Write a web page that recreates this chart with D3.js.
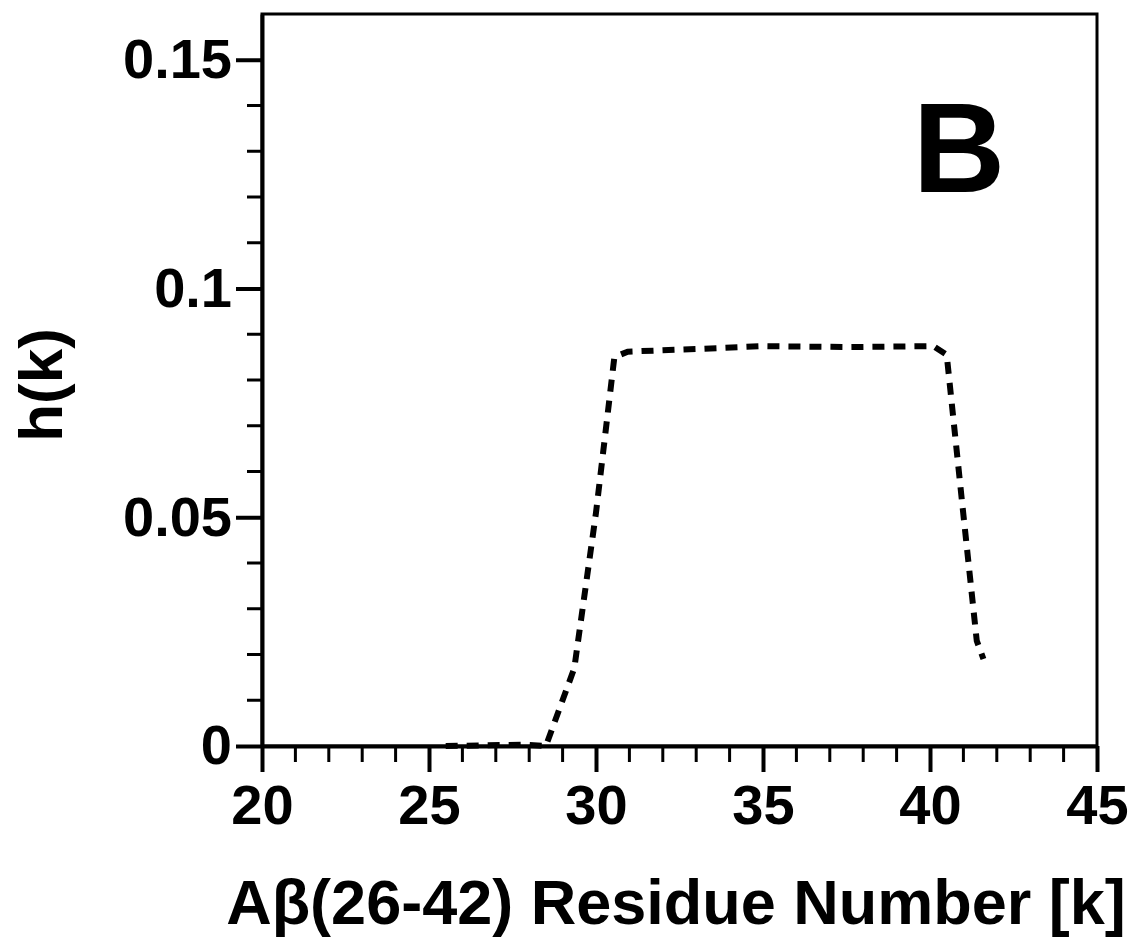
<!DOCTYPE html>
<html>
<head>
<meta charset="utf-8">
<script src="https://cdn.jsdelivr.net/npm/d3@7"></script>
<style>
  body { margin: 0; background: #fff; }
  text { font-family: "Liberation Sans", Arial, sans-serif; font-weight: bold; fill: #000; }
</style>
</head>
<body>
<div id="chart"></div>
<script>
// Residue positions and h(k) values
var residues = [25.5, 27.9, 28.5, 29.35, 30.0, 30.55, 30.95, 33.1, 35.0, 37.6, 40.1, 40.5, 40.95, 41.4, 41.6];
var hValues  = [0, 0.0003, 0, 0.017, 0.051, 0.085, 0.0862, 0.0868, 0.0874, 0.0872, 0.0874, 0.0855, 0.054, 0.023, 0.019];

var xTicks = [20, 25, 30, 35, 40, 45];
var yTicks = [0, 0.05, 0.1, 0.15];
var yTickLabels = ["0", "0.05", "0.1", "0.15"];

// Set graph margins and dimensions
var margin = {top: 14, right: 40, bottom: 197, left: 262},
    width = 1137 - margin.left - margin.right,
    height = 943 - margin.top - margin.bottom;

var x = d3.scaleLinear().domain([20, 45]).range([0, width]);
var y = d3.scaleLinear().domain([0, 0.16]).range([height, 0]);

var svg = d3.select("#chart").append("svg")
    .attr("width", 1137)
    .attr("height", 943)
  .append("g")
    .attr("transform", "translate(" + margin.left + "," + margin.top + ")");

// Frame
svg.append("rect")
    .attr("width", width)
    .attr("height", height)
    .attr("fill", "none")
    .attr("stroke", "#000")
    .attr("stroke-width", 3);

// Minor ticks
var xMinor = d3.range(21, 45, 1).filter(function(d) { return d % 5 !== 0; });
var yMinor = d3.range(1, 16, 1).filter(function(d) { return d % 5 !== 0; }).map(function(d) { return d / 100; });

svg.selectAll(".xminor")
    .data(xMinor)
  .enter().append("line")
    .attr("x1", function(d) { return x(d); })
    .attr("x2", function(d) { return x(d); })
    .attr("y1", height)
    .attr("y2", height + 16)
    .attr("stroke", "#000")
    .attr("stroke-width", 3);

svg.selectAll(".yminor")
    .data(yMinor)
  .enter().append("line")
    .attr("x1", 0)
    .attr("x2", -15)
    .attr("y1", function(d) { return y(d); })
    .attr("y2", function(d) { return y(d); })
    .attr("stroke", "#000")
    .attr("stroke-width", 3);

// Major axes
var xAxis = svg.append("g")
    .attr("transform", "translate(0," + height + ")")
    .call(d3.axisBottom(x).tickValues(xTicks).tickSize(26).tickPadding(12).tickSizeOuter(0));

var yAxis = svg.append("g")
    .call(d3.axisLeft(y).tickValues(yTicks).tickSize(26).tickPadding(4).tickSizeOuter(0)
      .tickFormat(function(d, i) { return yTickLabels[i]; }));

[xAxis, yAxis].forEach(function(ax) {
  ax.select(".domain").attr("stroke-width", 4);
  ax.selectAll(".tick line").attr("stroke-width", 4);
  ax.selectAll("text").style("font-size", "56px").attr("fill", "#000");
});
xAxis.selectAll("text").attr("dy", "0.71em");

// Dashed curve
var line = d3.line()
    .x(function(d, i) { return x(residues[i]); })
    .y(function(d) { return y(d); });

svg.append("path")
    .datum(hValues)
    .attr("fill", "none")
    .attr("stroke", "#000")
    .attr("stroke-width", 6)
    .attr("stroke-dasharray", "12,9")
    .attr("d", line);

// Panel label
svg.append("text")
    .attr("x", x(40.87))
    .attr("y", y(0.1211))
    .style("text-anchor", "middle")
    .style("font-size", "128px")
    .text("B");

// Axis titles
svg.append("text")
    .attr("x", 676 - margin.left)
    .attr("y", height + 178)
    .style("text-anchor", "middle")
    .style("font-size", "63px")
    .text("A\u03b2(26-42) Residue Number [k]");

svg.append("text")
    .attr("transform", "rotate(-90)")
    .attr("x", 0 - 371)
    .attr("y", 0 - 200)
    .style("text-anchor", "middle")
    .style("font-size", "62px")
    .text("h(k)");
</script>
</body>
</html>
